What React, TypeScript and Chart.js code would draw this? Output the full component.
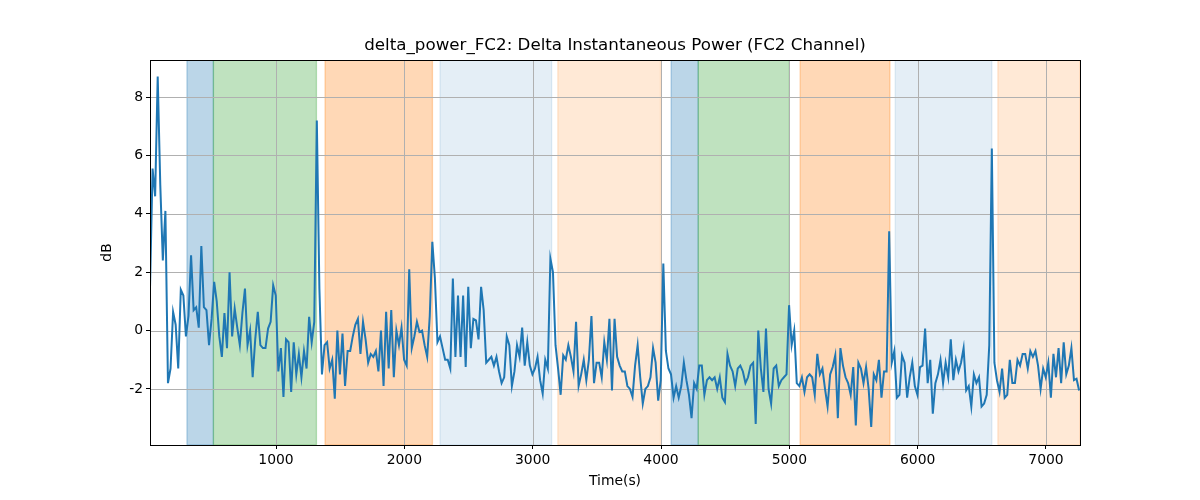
import { useEffect, useRef } from "react";
import { Chart, registerables } from "chart.js";

Chart.register(...registerables);

const TITLE = "delta_power_FC2: Delta Instantaneous Power (FC2 Channel)";
const X_LABEL = "Time(s)";
const Y_LABEL = "dB";

// samples are taken every 20 s starting at t = 18 s
const SAMPLE_START = 18;
const SAMPLE_STEP = 20;

const DB_VALUES = [
  1.44, 5.55, 4.6, 8.7, 5.0, 2.4, 4.1, -1.8, -1.3, 0.64,
  0.2, -1.3, 1.4, 1.2, -0.2, 0.5, 2.58, 0.7, 0.8, 0.1,
  2.9, 0.8, 0.7, -0.5, 0.4, 1.67, 1.0, -0.2, -0.9, 0.6,
  -0.6, 2.0, -0.2, 0.75, 0.1, -0.5, 0.6, 1.44, -0.5, 0.0,
  -1.6, -0.3, 0.64, -0.5, -0.6, -0.6, 0.07, 0.3, 1.55, 1.2,
  -1.4, -0.6, -2.27, -0.3, -0.4, -2.1, -0.4, -1.5, -0.8, -1.6,
  -0.7, -1.3, 0.47, -0.4, 0.3, 7.2, 1.44, -1.5, -0.5, -0.4,
  -1.3, -1.0, -2.33, 0.0, -1.5, -0.1, -1.9, -0.7, -0.7, -0.2,
  0.2, 0.4, -0.8, 0.3, -0.3, -1.1, -0.8, -0.9, -0.7, -1.4,
  0.0, -1.9, 0.64, -1.3, 0.7, -1.6, 0.0, -0.5, 0.1, -1.0,
  -1.2, 2.1, -0.6, -0.2, 0.3, -0.05, 0.0, -0.5, -0.9, 0.5,
  3.04, 1.8, -0.4, -0.2, -0.6, -1.0, -1.0, -1.3, 1.78, -0.9,
  1.2, -0.9, 1.2, -1.25, 1.5, -0.6, 0.4, 0.35, -0.3, 1.5,
  0.7, -1.1, -1.0, -0.9, -1.2, -0.9, -1.4, -1.8, -1.6, -0.2,
  -0.5, -1.9, -1.4, -0.5, -0.9, 0.1, -1.2, -0.4, -1.2, -1.5,
  -1.3, -0.9, -1.7, -2.16, -1.0, -1.3, 2.47, 2.0, -0.5, -1.3,
  -2.2, -0.85, -1.0, -0.5, -0.9, -1.4, 0.3, -1.9, -1.5, -1.0,
  -1.7, -1.0, 0.5, -1.8, -1.1, -1.1, -1.6, -0.4, -1.0, 0.4,
  -2.05, 0.4, -0.9, -1.2, -1.4, -1.4, -1.9, -2.0, -2.27, -1.2,
  -0.5, -1.6, -2.5, -2.0, -1.9, -1.6, -0.6, -1.1, -2.4, -1.7,
  2.3, -0.7, -1.3, -1.5, -2.3, -1.9, -2.3, -1.9, -1.1, -1.7,
  -2.2, -3.0, -1.8, -2.0, -1.2, -1.2, -2.2, -1.7, -1.6, -1.7,
  -1.6, -2.0, -1.6, -2.3, -2.45, -0.8, -1.2, -1.4, -1.9, -1.3,
  -1.2, -1.4, -1.8, -1.6, -1.2, -1.1, -3.2, 0.0, -1.3, -2.1,
  0.07, -2.0, -2.5, -1.3, -1.2, -1.9, -1.7, -1.6, -1.5, 0.87,
  -0.5, 0.0, -1.8, -1.9, -1.6, -2.1, -1.6, -1.5, -1.6, -2.2,
  -0.8, -1.5, -1.3, -2.0, -2.6, -1.5, -1.25, -0.85, -3.0, -0.6,
  -1.2, -1.6, -1.8, -2.2, -1.25, -3.25, -1.1, -1.3, -1.8, -1.25,
  -2.0, -3.3, -1.5, -1.7, -1.0, -2.3, -1.4, -1.4, 3.4, -1.1,
  -0.7, -2.3, -2.2, -0.85, -1.1, -2.3, -1.6, -1.1, -1.9, -2.2,
  -1.25, -1.2, 0.07, -1.8, -1.0, -2.85, -1.8, -1.5, -1.0, -1.8,
  -1.1, -1.6, -0.3, -1.7, -1.0, -1.4, -1.1, -0.6, -2.05, -1.9,
  -2.6, -1.5, -1.8, -1.6, -2.6, -2.5, -2.2, -0.5, 6.24, -1.1,
  -1.7, -2.1, -1.3, -2.3, -2.2, -1.0, -1.8, -1.8, -1.0, -1.2,
  -0.8, -0.8, -1.3, -0.7, -0.9, -0.7, -1.2, -2.0, -1.3, -1.6,
  -1.1, -2.3, -0.8, -1.6, -0.6, -1.8, -0.4, -1.5, -1.2, -0.6,
  -1.7, -1.65, -2.05,
];

const TIMES = DB_VALUES.map((_, i) => SAMPLE_START + i * SAMPLE_STEP);

// shaded phases
const SPAN_START = [306, 512, 1382, 2278, 3196, 4079, 4290, 5084, 5825, 6625];
const SPAN_END = [512, 1315, 2219, 3148, 3996, 4290, 5000, 5784, 6578, 7265];
const SPAN_COLOR = [
  "rgba(31,119,180,0.3)",
  "rgba(44,160,44,0.3)",
  "rgba(255,127,14,0.3)",
  "rgba(31,119,180,0.12)",
  "rgba(255,127,14,0.17)",
  "rgba(31,119,180,0.3)",
  "rgba(44,160,44,0.3)",
  "rgba(255,127,14,0.3)",
  "rgba(31,119,180,0.12)",
  "rgba(255,127,14,0.17)",
];

const X_TICKS = [1000, 2000, 3000, 4000, 5000, 6000, 7000];
const Y_TICKS = [-2, 0, 2, 4, 6, 8];
const Y_MIN = -3.92;
const Y_MAX = 9.27;

const FONT = "'DejaVu Sans', sans-serif";

const spansPlugin = {
  id: "spans",
  beforeDraw(chart: any) {
    const { ctx } = chart;
    ctx.save();
    ctx.fillStyle = "#ffffff";
    ctx.fillRect(0, 0, chart.width, chart.height);
    ctx.restore();
  },
  beforeDatasetsDraw(chart: any) {
    const { ctx, chartArea, scales } = chart;
    ctx.save();
    ctx.beginPath();
    ctx.rect(chartArea.left, chartArea.top, chartArea.right - chartArea.left, chartArea.bottom - chartArea.top);
    ctx.clip();
    SPAN_START.forEach((s, i) => {
      const x0 = scales.x.getPixelForValue(s);
      const x1 = scales.x.getPixelForValue(SPAN_END[i]);
      ctx.fillStyle = SPAN_COLOR[i];
      ctx.fillRect(x0, chartArea.top, x1 - x0, chartArea.bottom - chartArea.top);
      // matplotlib draws the span edge in the same translucent colour
      ctx.strokeStyle = SPAN_COLOR[i];
      ctx.lineWidth = 1.3;
      ctx.strokeRect(x0, chartArea.top, x1 - x0, chartArea.bottom - chartArea.top);
    });
    // grid lines sit above the spans
    ctx.strokeStyle = "#b0b0b0";
    ctx.lineWidth = 1;
    X_TICKS.forEach((t) => {
      const x = Math.round(scales.x.getPixelForValue(t)) + 0.5;
      ctx.beginPath();
      ctx.moveTo(x, chartArea.top);
      ctx.lineTo(x, chartArea.bottom);
      ctx.stroke();
    });
    Y_TICKS.forEach((t) => {
      const y = Math.round(scales.y.getPixelForValue(t)) + 0.5;
      ctx.beginPath();
      ctx.moveTo(chartArea.left, y);
      ctx.lineTo(chartArea.right, y);
      ctx.stroke();
    });
    ctx.restore();
  },
};

const frameAndTextPlugin = {
  id: "frameText",
  afterDraw(chart: any) {
    const { ctx, chartArea } = chart;
    ctx.save();
    ctx.strokeStyle = "#000000";
    ctx.lineWidth = 1;
    ctx.strokeRect(
      Math.round(chartArea.left) + 0.5,
      Math.round(chartArea.top) + 0.5,
      Math.round(chartArea.right - chartArea.left),
      Math.round(chartArea.bottom - chartArea.top)
    );
    const cx = (chartArea.left + chartArea.right) / 2;
    ctx.fillStyle = "#000000";
    ctx.textAlign = "center";
    ctx.textBaseline = "middle";
    ctx.font = `16.7px ${FONT}`;
    ctx.fillText(TITLE, cx, 46);
    ctx.font = `13.9px ${FONT}`;
    ctx.fillText(X_LABEL, cx, 481);
    ctx.translate(107, (chartArea.top + chartArea.bottom) / 2);
    ctx.rotate(-Math.PI / 2);
    ctx.fillText(Y_LABEL, 0, 0);
    ctx.restore();
  },
};

export default function App() {
  const canvasRef = useRef<HTMLCanvasElement>(null);
  const chartRef = useRef<Chart | null>(null);

  useEffect(() => {
    document.body.style.margin = "0";
    if (!canvasRef.current) return;
    if (chartRef.current) chartRef.current.destroy();

    const points = TIMES.map((t, i) => ({ x: t, y: DB_VALUES[i] }));

    chartRef.current = new Chart(canvasRef.current, {
      type: "line",
      data: {
        datasets: [
          {
            data: points,
            borderColor: "#1f77b4",
            borderWidth: 2,
            pointRadius: 0,
            tension: 0,
            fill: false,
          },
        ],
      },
      options: {
        animation: false,
        responsive: false,
        maintainAspectRatio: false,
        layout: { padding: { top: 60, right: 120, left: 0, bottom: 0 } },
        plugins: {
          legend: { display: false },
          title: { display: false },
          tooltip: { enabled: false },
        },
        scales: {
          x: {
            type: "linear",
            min: TIMES[0],
            max: SPAN_END[SPAN_END.length - 1],
            afterBuildTicks: (scale: any) => {
              scale.ticks = X_TICKS.map((v) => ({ value: v }));
            },
            afterFit: (scale: any) => {
              scale.height = 55;
            },
            border: { display: false },
            grid: {
              display: true,
              drawOnChartArea: false,
              tickLength: 4,
              tickColor: "#000000",
            },
            ticks: {
              color: "#000000",
              padding: 3,
              maxRotation: 0,
              autoSkip: false,
              font: { family: FONT, size: 13.9 },
              callback: (v: any) => String(v),
            },
          },
          y: {
            type: "linear",
            min: Y_MIN,
            max: Y_MAX,
            afterBuildTicks: (scale: any) => {
              scale.ticks = Y_TICKS.map((v) => ({ value: v }));
            },
            afterFit: (scale: any) => {
              scale.width = 150;
            },
            border: { display: false },
            grid: {
              display: true,
              drawOnChartArea: false,
              tickLength: 4,
              tickColor: "#000000",
            },
            ticks: {
              color: "#000000",
              padding: 3,
              autoSkip: false,
              font: { family: FONT, size: 13.9 },
              callback: (v: any) => String(v),
            },
          },
        },
      },
      plugins: [spansPlugin, frameAndTextPlugin],
    });

    return () => {
      if (chartRef.current) {
        chartRef.current.destroy();
        chartRef.current = null;
      }
    };
  }, []);

  return (
    <div style={{ width: 1200, height: 500 }}>
      <canvas ref={canvasRef} width={1200} height={500} style={{ display: "block" }}></canvas>
    </div>
  );
}
